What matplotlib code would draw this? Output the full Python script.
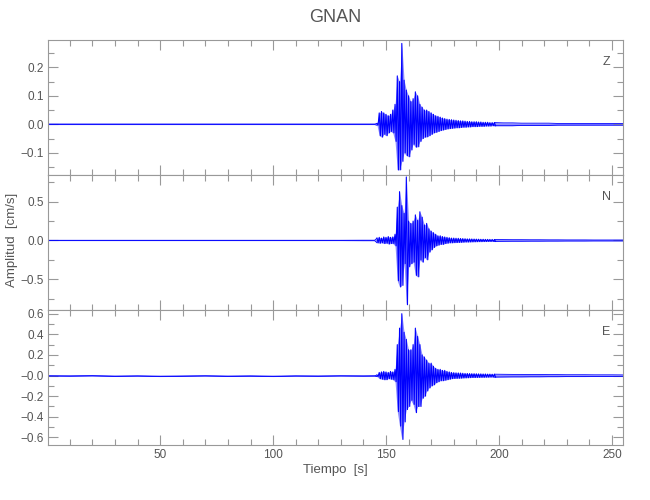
import numpy as np
import matplotlib
matplotlib.use('Agg')
import matplotlib.pyplot as plt
from matplotlib.ticker import MultipleLocator, FixedLocator, FixedFormatter

# station / components
station = 'GNAN'
components = ['Z', 'N', 'E']

# pre-event knots (s) and envelope values
pre_t = [0, 10, 20, 30, 40, 50, 60, 70, 80, 90, 100, 110, 120, 130, 140, 145]
z_pre_up = [0.001, 0.001, 0.001, 0.001, 0.001, 0.001, 0.001, 0.001, 0.001, 0.001, 0.001, 0.001, 0.001, 0.001, 0.001, 0.001]
z_pre_lo = [-0.001, -0.001, -0.001, -0.001, -0.001, -0.001, -0.001, -0.001, -0.001, -0.001, -0.001, -0.001, -0.001, -0.001, -0.001, -0.001]
n_pre_up = [0.002, 0.002, 0.002, 0.002, 0.002, 0.002, 0.002, 0.002, 0.002, 0.002, 0.002, 0.002, 0.002, 0.002, 0.003, 0.003]
n_pre_lo = [-0.002, -0.002, -0.002, -0.002, -0.002, -0.002, -0.002, -0.002, -0.002, -0.002, -0.002, -0.002, -0.002, -0.002, -0.003, -0.003]
e_pre_up = [-0.002, -0.003, -0.001, -0.005, -0.003, -0.006, -0.004, -0.002, -0.005, -0.003, -0.006, -0.003, -0.004, -0.002, -0.003, -0.002]
e_pre_lo = [-0.005, -0.007, -0.004, -0.009, -0.006, -0.010, -0.008, -0.005, -0.009, -0.007, -0.010, -0.006, -0.008, -0.005, -0.007, -0.006]

# main event, one knot per second: 146 .. 198 s
event_t = list(range(146, 199))
z_up = [0.003, 0.040, 0.045, 0.040, 0.035, 0.030, 0.035, 0.050, 0.070, 0.170,
        0.150, 0.284, 0.155, 0.120, 0.100, 0.080, 0.090, 0.114, 0.100, 0.070,
        0.060, 0.050, 0.050, 0.045, 0.040, 0.035, 0.030, 0.028, 0.025, 0.022,
        0.020, 0.018, 0.017, 0.016, 0.015, 0.014, 0.013, 0.012, 0.012, 0.011,
        0.010, 0.010, 0.009, 0.009, 0.009, 0.008, 0.008, 0.007, 0.007, 0.007,
        0.006, 0.006, 0.006]
z_lo = [-0.003, -0.040, -0.045, -0.035, -0.040, -0.030, -0.025, -0.030, -0.060, -0.160,
        -0.160, -0.130, -0.100, -0.110, -0.114, -0.090, -0.070, -0.080, -0.079, -0.060,
        -0.050, -0.045, -0.044, -0.040, -0.035, -0.030, -0.028, -0.025, -0.022, -0.020,
        -0.018, -0.016, -0.015, -0.014, -0.013, -0.012, -0.012, -0.011, -0.010, -0.010,
        -0.009, -0.009, -0.008, -0.008, -0.008, -0.007, -0.007, -0.007, -0.006, -0.006,
        -0.006, -0.005, -0.005]
n_up = [0.030, 0.040, 0.030, 0.045, 0.040, 0.050, 0.040, 0.045, 0.080, 0.430,
        0.630, 0.450, 0.350, 0.820, 0.250, 0.220, 0.250, 0.330, 0.260, 0.370,
        0.300, 0.200, 0.220, 0.150, 0.120, 0.100, 0.080, 0.060, 0.060, 0.050,
        0.045, 0.040, 0.035, 0.030, 0.030, 0.028, 0.027, 0.025, 0.024, 0.022,
        0.020, 0.020, 0.019, 0.018, 0.017, 0.016, 0.015, 0.015, 0.014, 0.014,
        0.013, 0.013, 0.012]
n_lo = [-0.030, -0.035, -0.030, -0.040, -0.035, -0.045, -0.040, -0.040, -0.070, -0.520,
        -0.600, -0.580, -0.300, -0.830, -0.340, -0.300, -0.280, -0.450, -0.470, -0.250,
        -0.280, -0.220, -0.250, -0.150, -0.120, -0.090, -0.070, -0.060, -0.050, -0.050,
        -0.040, -0.035, -0.030, -0.030, -0.028, -0.027, -0.025, -0.024, -0.022, -0.020,
        -0.020, -0.019, -0.018, -0.017, -0.016, -0.015, -0.015, -0.014, -0.014, -0.013,
        -0.013, -0.012, -0.012]
e_up = [0.005, 0.030, 0.035, 0.040, 0.035, 0.030, 0.040, 0.035, 0.060, 0.300,
        0.460, 0.600, 0.420, 0.350, 0.250, 0.250, 0.300, 0.460, 0.380, 0.300,
        0.200, 0.180, 0.150, 0.120, 0.120, 0.090, 0.070, 0.060, 0.060, 0.050,
        0.050, 0.040, 0.035, 0.030, 0.028, 0.026, 0.025, 0.024, 0.022, 0.020,
        0.020, 0.019, 0.018, 0.018, 0.017, 0.016, 0.016, 0.015, 0.015, 0.014,
        0.014, 0.013, 0.013]
e_lo = [-0.010, -0.030, -0.035, -0.040, -0.040, -0.030, -0.035, -0.040, -0.060, -0.350,
        -0.490, -0.620, -0.450, -0.330, -0.300, -0.240, -0.280, -0.360, -0.300, -0.300,
        -0.220, -0.200, -0.150, -0.120, -0.100, -0.090, -0.070, -0.060, -0.050, -0.050,
        -0.045, -0.040, -0.035, -0.030, -0.028, -0.027, -0.026, -0.025, -0.023, -0.022,
        -0.021, -0.020, -0.019, -0.019, -0.018, -0.018, -0.017, -0.017, -0.016, -0.016,
        -0.015, -0.015, -0.015]

# coda knots
coda_t = [202, 206, 210, 214, 218, 222, 226, 230, 234, 238, 242, 246, 250, 255]
z_coda_up = [0.005, 0.005, 0.004, 0.004, 0.004, 0.004, 0.003, 0.003, 0.003, 0.003, 0.003, 0.003, 0.003, 0.003]
z_coda_lo = [-0.005, -0.005, -0.004, -0.004, -0.004, -0.004, -0.003, -0.003, -0.003, -0.003, -0.003, -0.003, -0.003, -0.003]
n_coda_up = [0.011, 0.010, 0.010, 0.009, 0.009, 0.008, 0.008, 0.007, 0.007, 0.007, 0.006, 0.006, 0.006, 0.006]
n_coda_lo = [-0.011, -0.010, -0.010, -0.009, -0.009, -0.008, -0.008, -0.007, -0.007, -0.007, -0.006, -0.006, -0.006, -0.006]
e_coda_up = [0.012, 0.011, 0.011, 0.010, 0.010, 0.009, 0.009, 0.008, 0.008, 0.008, 0.007, 0.007, 0.007, 0.006]
e_coda_lo = [-0.014, -0.013, -0.013, -0.012, -0.012, -0.011, -0.011, -0.010, -0.010, -0.010, -0.009, -0.009, -0.009, -0.008]

ylims = [(-0.178, 0.296), (-0.898, 0.845), (-0.674, 0.636)]
y_major = [0.1, 0.5, 0.2]
y_minor = [0.05, 0.25, 0.1]

grey = '#999999'
txt = '#555555'

plt.rcParams['font.family'] = ['Liberation Sans', 'DejaVu Sans']

series = [
    (z_pre_up, z_pre_lo, z_up, z_lo, z_coda_up, z_coda_lo),
    (n_pre_up, n_pre_lo, n_up, n_lo, n_coda_up, n_coda_lo),
    (e_pre_up, e_pre_lo, e_up, e_lo, e_coda_up, e_coda_lo),
]

fig, axes = plt.subplots(3, 1, figsize=(6.5, 5), dpi=100, sharex=True)
fig.subplots_adjust(left=0.0734, right=0.959, top=0.92, bottom=0.11, hspace=0)

t_all = np.array(pre_t + event_t + coda_t, dtype=float)
ev = np.array(event_t, dtype=float)
t_zig = np.column_stack((ev, ev + 0.5)).ravel()

for i, ax in enumerate(axes):
    pu, pl, eu, el, cu, cl = series[i]
    up_all = np.array(pu + eu + cu)
    lo_all = np.array(pl + el + cl)
    # envelope band
    ax.fill_between(t_all, lo_all, up_all, color='blue', alpha=0.45, lw=0)
    # quiet parts: band edges
    for seg_t, u, l in [(pre_t + event_t[:1], pu + eu[:1], pl + el[:1]),
                        (event_t[-1:] + coda_t, eu[-1:] + cu, el[-1:] + cl)]:
        ax.plot(seg_t, u, color='blue', lw=0.6)
        ax.plot(seg_t, l, color='blue', lw=0.6)
    # strong motion: one swing per second
    ax.plot(t_zig, np.column_stack((eu, el)).ravel(), color='blue', lw=0.8)

    ax.set_xlim(0.2, 255.1)
    ax.set_ylim(*ylims[i])
    ax.xaxis.set_major_locator(MultipleLocator(50))
    ax.xaxis.set_minor_locator(MultipleLocator(10))
    ax.yaxis.set_major_locator(MultipleLocator(y_major[i]))
    ax.yaxis.set_minor_locator(MultipleLocator(y_minor[i]))
    for s in ax.spines.values():
        s.set_color(grey)
        s.set_linewidth(0.8)
    ax.tick_params(which='both', direction='in', top=True, right=True,
                   color=grey, labelcolor=txt, labelsize=8.5, pad=3)
    ax.tick_params(which='major', length=7, width=0.8)
    ax.tick_params(which='minor', length=4, width=0.8)
    ax.text(0.97, 0.84, components[i], transform=ax.transAxes, color=txt,
            fontsize=9, ha='center', va='center')

# bottom panel shows "-0.0" like the original
e_ticks = [-0.6, -0.4, -0.2, 0.0, 0.2, 0.4, 0.6]
e_labels = ['\u22120.6', '\u22120.4', '\u22120.2', '\u22120.0', '0.2', '0.4', '0.6']
axes[2].yaxis.set_major_locator(FixedLocator(e_ticks))
axes[2].yaxis.set_major_formatter(FixedFormatter(e_labels))

fig.text(0.516, 0.965, station, ha='center', va='center', color=txt, fontsize=13)
fig.text(0.516, 0.06, 'Tiempo  [s]', ha='center', va='center', color=txt, fontsize=9.5)
fig.text(0.018, 0.52, 'Amplitud  [cm/s]', ha='center', va='center', color=txt,
         fontsize=9.5, rotation=90)

fig.savefig('out.png', dpi=100)
